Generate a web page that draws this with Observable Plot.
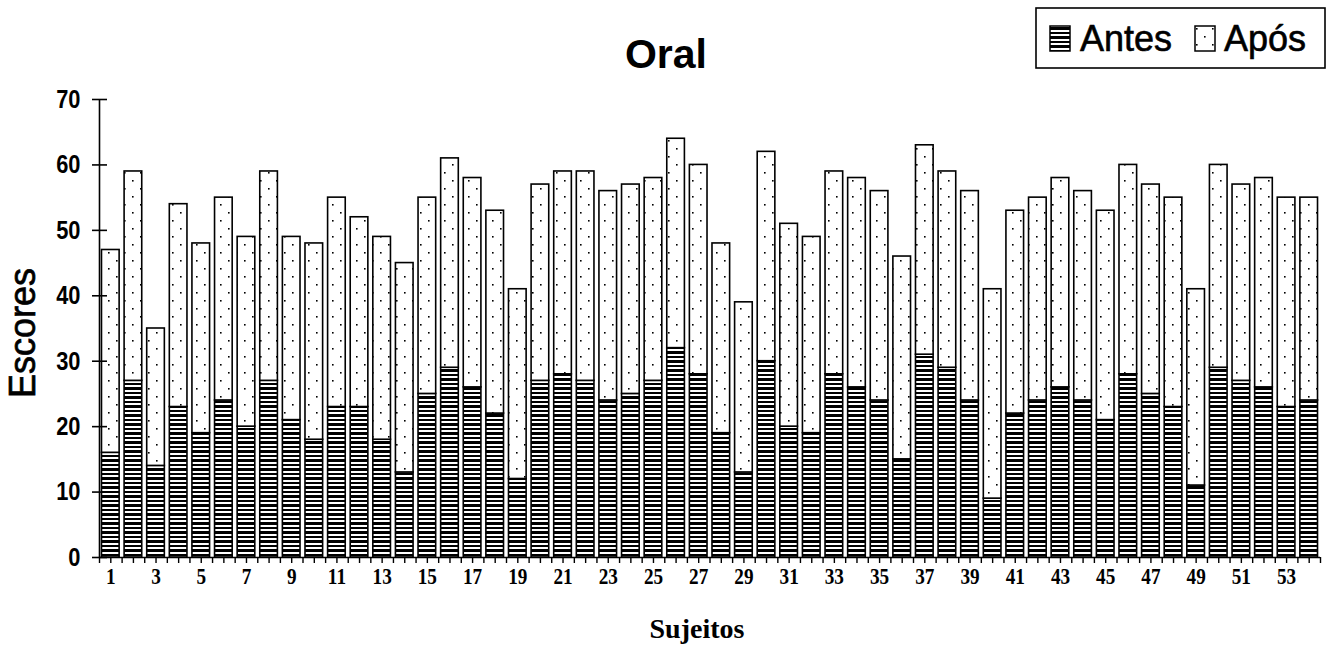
<!DOCTYPE html>
<html>
<head>
<meta charset="utf-8">
<script src="https://cdn.jsdelivr.net/npm/d3@7"></script>
<script src="https://cdn.jsdelivr.net/npm/@observablehq/plot@0.6"></script>
<style>
html, body { margin: 0; padding: 0; background: #fff; }
#chart svg { display: block; }
</style>
</head>
<body>
<div id="chart"></div>
<script>
// ---- data ----
const subjects = [1,2,3,4,5,6,7,8,9,10,11,12,13,14,15,16,17,18,19,20,21,22,23,24,25,26,27,
                  28,29,30,31,32,33,34,35,36,37,38,39,40,41,42,43,44,45,46,47,48,49,50,51,52,53,54];
const antes = [16,27,14,23,19,24,20,27,21,18,23,23,18,13,25,29,26,22,12,27,28,27,24,25,27,32,28,
               19,13,30,20,19,28,26,24,15,31,29,24,9,22,24,26,24,21,28,25,23,11,29,27,26,23,24];
const apos  = [31,32,21,31,29,31,29,32,28,30,32,29,31,32,30,32,32,31,29,30,31,32,32,32,31,32,32,
               29,26,32,31,30,31,32,32,31,32,30,32,32,31,31,32,32,32,32,32,32,30,31,30,32,32,31];
const seriesNames = ["Antes", "Após"];
const yTicks = [0,10,20,30,40,50,60,70];
const xTickLabels = [1,3,5,7,9,11,13,15,17,19,21,23,25,27,29,31,33,35,37,39,41,43,45,47,49,51,53];
const titleText = "Oral";
const yLabel = "Escores";
const xLabel = "Sujeitos";

// ---- build ----
const rows = subjects.map((s, i) => ({s, antes: antes[i], apos: apos[i]}));
const W = 1331, H = 648;
const ML = 99, MR = 11, MT = 99, MB = 91;
const halfBar = 0.39;
const xTicks = subjects.flatMap(s => [s - 0.5, s]).concat([subjects[subjects.length - 1] + 0.5]);

const svg = Plot.plot({
  width: W, height: H,
  marginLeft: ML, marginRight: MR, marginTop: MT, marginBottom: MB,
  style: {background: "#fff", overflow: "visible"},
  x: {domain: [subjects[0] - 0.5, subjects[subjects.length - 1] + 0.5], axis: null, label: null},
  y: {domain: [0, 70], axis: null, label: null},
  marks: [
    Plot.rectY(rows, {x1: d => d.s - halfBar, x2: d => d.s + halfBar, y1: 0, y2: "antes",
      fill: "url(#pAntes)", stroke: "#000", strokeWidth: 1.6}),
    Plot.rectY(rows, {x1: d => d.s - halfBar, x2: d => d.s + halfBar, y1: "antes", y2: d => d.antes + d.apos,
      fill: "url(#pApos)", stroke: "#000", strokeWidth: 1.6}),
    Plot.ruleX([subjects[0] - 0.5], {stroke: "#000", strokeWidth: 1.6}),
    Plot.ruleY([0], {stroke: "#000", strokeWidth: 1.6}),
    Plot.tickY(yTicks, {y: d => d, insetLeft: -7, insetRight: (W - ML - MR) - 8, stroke: "#000", strokeWidth: 1.6}),
    Plot.axisY({ticks: yTicks, tickSize: 0, tickPadding: 19, fontSize: 26, fontWeight: "bold", label: null}),
    Plot.axisX({ticks: xTicks, tickSize: 6, tickPadding: 3, strokeWidth: 1.4, label: null,
      tickFormat: d => xTickLabels.includes(d) ? String(d) : "", fontSize: 24, fontWeight: "bold"})
  ]
});

document.getElementById("chart").append(svg);
const s = d3.select(svg);

// patterns
s.insert("defs", ":first-child").html(`
  <pattern id="pAntes" patternUnits="userSpaceOnUse" width="8" height="9">
    <rect width="8" height="9" fill="#000"/>
    <rect x="0" y="3" width="8" height="2" fill="#fff"/>
    <rect x="0" y="7" width="8" height="2" fill="#fff"/>
  </pattern>
  <pattern id="pApos" patternUnits="userSpaceOnUse" width="16" height="16">
    <rect width="16" height="16" fill="#fff"/>
    <rect x="4" y="4" width="1.6" height="1.6" fill="#000"/>
    <rect x="12" y="12" width="1.6" height="1.6" fill="#000"/>
  </pattern>`);

// axis label fonts + condensing
s.selectAll('g[aria-label="y-axis tick label"]').style("font-family", "'Liberation Sans', Arial, sans-serif");
s.selectAll('g[aria-label="y-axis tick label"] text').each(function () {
  this.style.fill = "#000";
  const w = this.getComputedTextLength();
  if (w > 0) { this.setAttribute("textLength", w * 0.84); this.setAttribute("lengthAdjust", "spacingAndGlyphs"); }
});
s.selectAll('g[aria-label="x-axis tick label"]').style("font-family", "'Liberation Serif', 'Times New Roman', serif");
s.selectAll('g[aria-label="x-axis tick label"] text').each(function () {
  this.style.fill = "#000";
  const w = this.getComputedTextLength();
  if (w > 0) { this.setAttribute("textLength", w * 0.8); this.setAttribute("lengthAdjust", "spacingAndGlyphs"); }
});

// title
s.append("text").attr("x", 666).attr("y", 68).attr("text-anchor", "middle")
  .style("font-family", "'Liberation Sans', Arial, sans-serif").style("font-weight", "bold")
  .style("font-size", "41px").attr("fill", "#000").text(titleText);

// y label
s.append("text").attr("transform", "translate(22,333) rotate(-90)").attr("text-anchor", "middle")
  .attr("dy", "0.36em")
  .style("font-family", "'Liberation Sans', Arial, sans-serif")
  .style("font-size", "36px").attr("fill", "#000")
  .attr("stroke", "#000").attr("stroke-width", 0.7).text(yLabel);

// x label
s.append("text").attr("x", 697).attr("y", 638).attr("text-anchor", "middle")
  .style("font-family", "'Liberation Serif', 'Times New Roman', serif").style("font-weight", "bold")
  .style("font-size", "28px").attr("fill", "#000").text(xLabel);

// legend
const lg = s.append("g").attr("aria-label", "legend");
lg.append("rect").attr("x", 1036).attr("y", 8).attr("width", 289).attr("height", 60)
  .attr("fill", "#fff").attr("stroke", "#000").attr("stroke-width", 1.6);
const legendItems = [
  {name: seriesNames[0], fill: "url(#pAntes)", bx: 1050, tx: 1080},
  {name: seriesNames[1], fill: "url(#pApos)", bx: 1195, tx: 1224}
];
legendItems.forEach(it => {
  lg.append("rect").attr("x", it.bx).attr("y", 26).attr("width", 20).attr("height", 25)
    .attr("fill", it.fill).attr("stroke", "#000").attr("stroke-width", 1.5);
  lg.append("text").attr("x", it.tx).attr("y", 51).attr("text-anchor", "start")
    .style("font-family", "'Liberation Sans', Arial, sans-serif")
    .style("font-size", "36px").attr("fill", "#000")
    .attr("stroke", "#000").attr("stroke-width", 0.6).text(it.name);
});
</script>
</body>
</html>
